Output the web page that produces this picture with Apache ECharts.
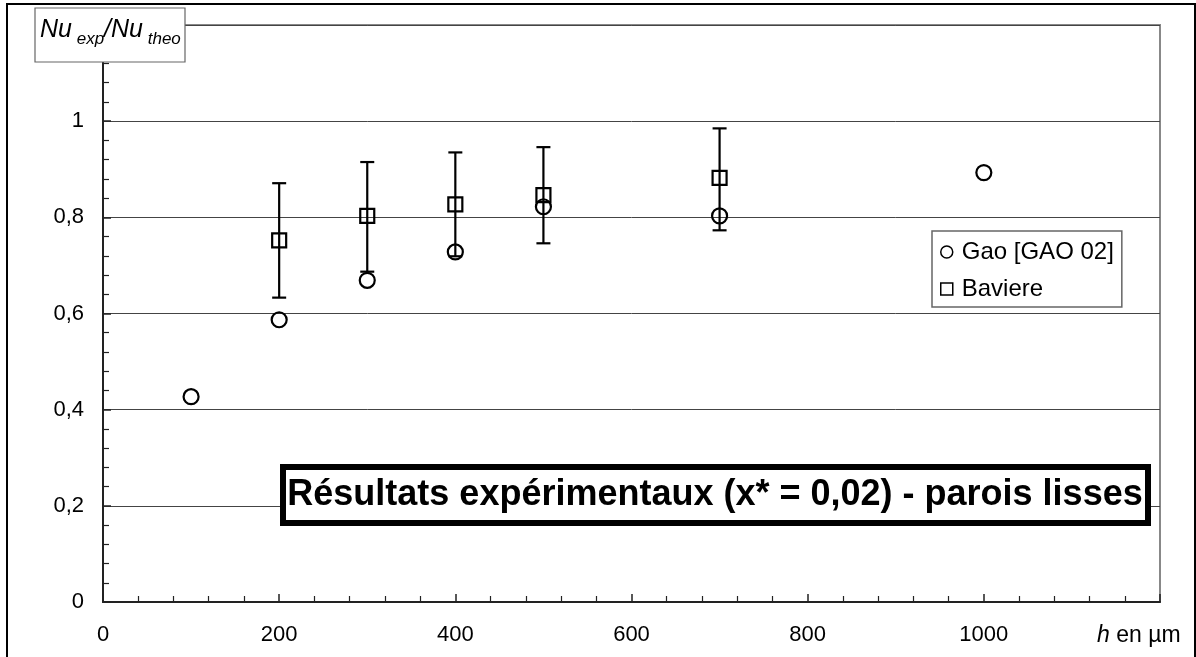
<!DOCTYPE html>
<html>
<head>
<meta charset="utf-8">
<script src="https://cdn.jsdelivr.net/npm/echarts@6/dist/echarts.min.js"></script>
<style>html,body{margin:0;padding:0;background:#fff;}#c{width:1196px;height:657px;}</style>
</head>
<body>
<div id="c"></div>
<script>
// Data
const gaoX = [100, 200, 300, 400, 500, 700, 1000];
const gaoY = [0.427, 0.587, 0.669, 0.728, 0.822, 0.803, 0.893];
const bavX = [200, 300, 400, 500, 700];
const bavY = [0.752, 0.803, 0.827, 0.846, 0.882];
const bavLow = [0.633, 0.687, 0.719, 0.746, 0.773];
const bavHigh = [0.871, 0.915, 0.935, 0.946, 0.985];
const xTicks = [0, 200, 400, 600, 800, 1000];
const yTicks = [0, 0.2, 0.4, 0.6, 0.8, 1];
const seriesNames = ['Gao [GAO 02]', 'Baviere'];
const titleText = 'Résultats expérimentaux (x* = 0,02) - parois lisses';

const chart = echarts.init(document.getElementById('c'));
const font = 'Liberation Sans, Arial, sans-serif';

const option = {
  animation: false,
  backgroundColor: '#fff',
  grid: {left: 103, top: 25, right: 36, bottom: 55, show: true, borderColor: '#888', borderWidth: 2, backgroundColor: 'transparent'},
  xAxis: {
    type: 'value', min: 0, max: 1200, interval: 200,
    axisLine: {show: true, onZero: false, lineStyle: {color: '#222', width: 2}},
    axisTick: {show: true, inside: true, length: 8, lineStyle: {color: '#222', width: 1.5}},
    minorTick: {show: true, splitNumber: 5, length: 6, lineStyle: {color: '#222', width: 1.2}},
    splitLine: {show: false},
    axisLabel: {margin: 22, fontSize: 22, fontFamily: font, color: '#000',
      formatter: v => xTicks.indexOf(v) >= 0 ? String(v) : ''}
  },
  yAxis: {
    type: 'value', min: 0, max: 1.2, interval: 0.2,
    axisLine: {show: true, onZero: false, lineStyle: {color: '#222', width: 2}},
    axisTick: {show: true, inside: true, length: 8, lineStyle: {color: '#222', width: 1.5}},
    minorTick: {show: true, splitNumber: 5, length: 6, lineStyle: {color: '#222', width: 1.2}},
    splitLine: {show: true, lineStyle: {color: '#444', width: 1}},
    axisLabel: {margin: 19, fontSize: 22, fontFamily: font, color: '#000',
      formatter: v => {
        const r = Math.round(v * 10) / 10;
        return yTicks.some(t => Math.abs(t - r) < 1e-9) ? String(r).replace('.', ',') : '';
      }}
  },
  legend: {
    show: true, orient: 'vertical', left: 932, top: 231,
    padding: [9, 8, 6, 8], itemGap: 13, itemWidth: 12, itemHeight: 12,
    backgroundColor: '#fff', borderColor: '#666', borderWidth: 1.5, borderRadius: 0,
    textStyle: {fontSize: 24, fontFamily: font, color: '#000', padding: [0, 0, 0, 4]},
    data: [
      {name: seriesNames[0], icon: 'circle', itemStyle: {color: '#fff', borderColor: '#000', borderWidth: 1.5}},
      {name: seriesNames[1], icon: 'rect', itemStyle: {color: '#fff', borderColor: '#000', borderWidth: 1.5}}
    ]
  },
  series: [
    {
      type: 'custom', name: 'errors', silent: true, z: 3,
      data: bavX.map((x, i) => [x, bavLow[i], bavHigh[i]]),
      renderItem: (params, api) => {
        const x = api.value(0);
        const top = api.coord([x, api.value(2)]);
        const bot = api.coord([x, api.value(1)]);
        const hw = 7;
        const st = {stroke: '#000', lineWidth: 2.2};
        return {type: 'group', children: [
          {type: 'line', shape: {x1: top[0], y1: top[1], x2: bot[0], y2: bot[1]}, style: st},
          {type: 'line', shape: {x1: top[0] - hw, y1: top[1], x2: top[0] + hw, y2: top[1]}, style: st},
          {type: 'line', shape: {x1: bot[0] - hw, y1: bot[1], x2: bot[0] + hw, y2: bot[1]}, style: st}
        ]};
      }
    },
    {
      type: 'scatter', name: seriesNames[0], symbol: 'circle', symbolSize: 15, z: 4,
      itemStyle: {color: 'rgba(0,0,0,0)', borderColor: '#000', borderWidth: 2.2, opacity: 1},
      data: gaoX.map((x, i) => [x, gaoY[i]])
    },
    {
      type: 'scatter', name: seriesNames[1], symbol: 'rect', symbolSize: 14, z: 4,
      itemStyle: {color: 'rgba(0,0,0,0)', borderColor: '#000', borderWidth: 2.2, opacity: 1},
      data: bavX.map((x, i) => [x, bavY[i]])
    }
  ],
  graphic: [
    {type: 'rect', z: 100, shape: {x: 7, y: 4, width: 1188, height: 700}, style: {fill: 'none', stroke: '#000', lineWidth: 2}},
    {type: 'rect', z: 100, shape: {x: 35, y: 8, width: 150, height: 54}, style: {fill: '#fff', stroke: '#666', lineWidth: 1.2}},
    {type: 'text', z: 101, left: 40, top: 18,
      style: {
        text: '{n|Nu}{s| exp}{n|/Nu}{s| theo}',
        rich: {
          n: {fontSize: 25, fontStyle: 'italic', fontFamily: font, fill: '#000', verticalAlign: 'bottom', lineHeight: 28},
          s: {fontSize: 17, fontStyle: 'italic', fontFamily: font, fill: '#000', verticalAlign: 'bottom', lineHeight: 22, padding: [0, 0, -5, 0]}
        }
      }},
    {type: 'rect', z: 100, shape: {x: 283, y: 467, width: 865, height: 56}, style: {fill: '#fff', stroke: '#000', lineWidth: 6}},
    {type: 'text', z: 101, x: 715, y: 495,
      style: {text: titleText, fontSize: 36, fontWeight: 'bold', fontFamily: font, fill: '#000', align: 'center', verticalAlign: 'middle'}},
    {type: 'text', z: 101, x: 1097, y: 636,
      style: {text: '{i|h} en µm', rich: {i: {fontStyle: 'italic', fontSize: 23, fontFamily: font, fill: '#000'}}, fontSize: 23, fontFamily: font, fill: '#000', verticalAlign: 'middle'}}
  ]
};
chart.setOption(option);
</script>
</body>
</html>
